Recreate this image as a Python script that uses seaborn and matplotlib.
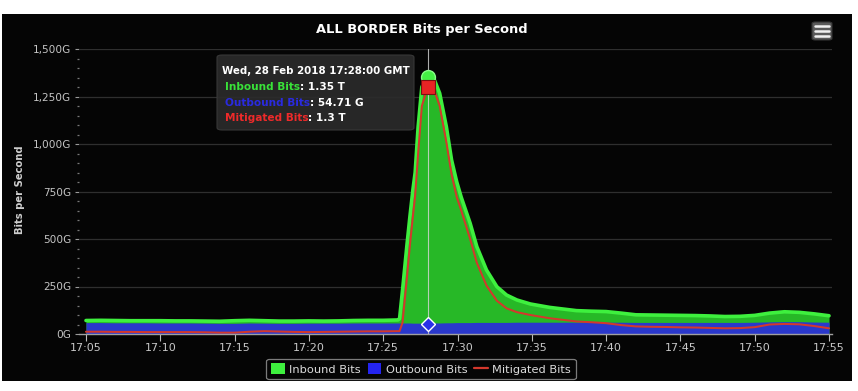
import matplotlib
matplotlib.use("Agg")
import numpy as np
import pandas as pd
import seaborn as sns
import matplotlib.pyplot as plt
from matplotlib.patches import FancyBboxPatch, Rectangle, Patch
from matplotlib.lines import Line2D
from matplotlib.ticker import FixedLocator, MultipleLocator

# ---------------- data (minutes after 17:00, values in G bits/s) ----------------
minutes = [5, 6, 7, 8, 9, 10, 11, 12, 13, 14, 15, 16, 17, 18, 19, 20, 21, 22, 23, 24, 25, 26,
           26.1, 26.3, 26.6, 26.8, 27.0, 27.15, 27.35, 27.6, 28.0, 28.4, 28.8, 29.25, 29.6,
           29.95, 30.25, 30.85, 31.3, 31.95, 32.65, 33.3, 34.0, 34.9, 36.2, 38.0,
           39, 40, 41, 42, 43, 44, 45, 46, 47, 48, 49, 50, 51, 52, 53, 54, 55]
inbound = [71, 72, 71, 70, 70, 70, 69, 69, 68, 67, 70, 72, 70, 68, 68, 69, 68, 69, 71, 72, 72, 74,
           80, 230, 470, 620, 760, 850, 1090, 1300, 1355, 1346, 1267, 1091, 916,
           800, 720, 583, 460, 337, 249, 205, 179, 158, 140, 123,
           120, 118, 110, 101, 100, 99, 98, 97, 95, 92, 93, 98, 110, 117, 114, 106, 96]
outbound = [60, 60, 59, 59, 59, 58, 58, 58, 57, 56, 56, 58, 57, 56, 56, 57, 57, 57, 58, 58, 58, 58,
            58, 58, 58, 58, 57, 57, 57, 57, 55, 58, 58, 59, 59,
            60, 60, 60, 61, 61, 61, 61, 62, 62, 62, 62,
            62, 62, 62, 61, 61, 61, 61, 61, 61, 61, 61, 62, 64, 65, 65, 63, 62]
mitigated = [12, 12, 11, 11, 10, 10, 10, 10, 9, 7, 7, 12, 15, 13, 11, 10, 11, 12, 13, 14, 14, 15,
             15, 60, 300, 470, 620, 730, 950, 1200, 1300, 1290, 1200, 1010, 840,
             720, 650, 500, 375, 255, 175, 135, 115, 100, 83, 66,
             62, 57, 47, 40, 38, 37, 35, 34, 32, 30, 31, 36, 50, 53, 51, 42, 30]

x_ticks = [5, 10, 15, 20, 25, 30, 35, 40, 45, 50, 55]
x_tick_labels = ["17:05", "17:10", "17:15", "17:20", "17:25", "17:30",
                 "17:35", "17:40", "17:45", "17:50", "17:55"]
y_ticks = [0, 250, 500, 750, 1000, 1250, 1500]
y_tick_labels = ["0G", "250G", "500G", "750G", "1,000G", "1,250G", "1,500G"]

series_names = ["Inbound Bits", "Outbound Bits", "Mitigated Bits"]
tooltip_title = "Wed, 28 Feb 2018 17:28:00 GMT"
tooltip_texts = [": 1.35 T", ": 54.71 G", ": 1.3 T"]
hover_minute = 28.0
hover_values = [1355, 55, 1300]
chart_title = "ALL BORDER Bits per Second"
y_title = "Bits per Second"

df = pd.DataFrame({"minute": minutes, "inbound": inbound,
                   "outbound": outbound, "mitigated": mitigated})

# ---------------- styling ----------------
sns.set_theme(style="dark")
plt.rcParams["font.family"] = ["DejaVu Sans"]

W, H = 858, 391
fig = plt.figure(figsize=(W / 100, H / 100), dpi=100)
fig.patch.set_facecolor("white")


def fx(x):
    return x / W


def fy(y):
    return 1 - y / H


# black chart background (white strip at top/bottom)
bg = Rectangle((fx(2), fy(381)), fx(850), (381 - 14) / H,
               transform=fig.transFigure, facecolor="#050505",
               edgecolor="none", zorder=-10)
fig.patches.append(bg)

GREEN_FILL = "#27b827"
GREEN_LINE = "#3ef03e"
BLUE_FILL = "#2a38cc"
RED = "#d4382c"

ax = fig.add_axes([fx(79), fy(334), fx(832) - fx(79), (334 - 49) / H])
ax.set_facecolor("none")
ax.set_zorder(1)

ax.fill_between(df["minute"], 0, df["inbound"], color=GREEN_FILL, lw=0, zorder=2)
sns.lineplot(data=df, x="minute", y="inbound", ax=ax, color=GREEN_LINE, lw=2.6,
             estimator=None, sort=False, zorder=3)
ax.fill_between(df["minute"], 0, df["outbound"], color=BLUE_FILL, lw=0, zorder=4)
sns.lineplot(data=df, x="minute", y="mitigated", ax=ax, color=RED, lw=1.45,
             estimator=None, sort=False, zorder=5)

ax.set_xlim(4.53, 55.2)
ax.set_ylim(0, 1500)
ax.set_xlabel("")
ax.set_ylabel("")

ax.xaxis.set_major_locator(FixedLocator(x_ticks))
ax.set_xticklabels(x_tick_labels)
ax.yaxis.set_major_locator(FixedLocator(y_ticks))
ax.set_yticklabels(y_tick_labels)
ax.yaxis.set_minor_locator(MultipleLocator(50))

ax.grid(False)
for y in y_ticks[1:]:
    ax.axhline(y, color="#2f2f2f", lw=0.9, zorder=1)

for s in ["top", "right", "left"]:
    ax.spines[s].set_visible(False)
ax.spines["bottom"].set_color("#a0a0a0")
ax.spines["bottom"].set_linewidth(1.0)
ax.spines["bottom"].set_zorder(6)

ax.tick_params(axis="x", colors="#bdbdbd", labelsize=8, length=5, width=0.8,
               direction="out", pad=1.5, bottom=True)
ax.tick_params(axis="x", labelcolor="#c8c8c8")
ax.tick_params(axis="y", which="major", colors="#9a9a9a", labelcolor="#c4c4c4",
               labelsize=7.6, length=3, width=0.8, direction="out", pad=2.5, left=True)
ax.tick_params(axis="y", which="minor", colors="#7a7a7a", length=1.5, width=0.9,
               direction="out", left=True)

# crosshair + hover markers
ax.axvline(hover_minute, color="#d8d8d8", lw=0.8, alpha=0.8, zorder=6)
ax.plot([hover_minute], [hover_values[0]], marker="o", ms=10, mfc="#44f044",
        mec="#88ff88", mew=1, zorder=8, ls="none")
ax.plot([hover_minute], [hover_values[2]], marker="s", ms=10, mfc="#e82424",
        mec="#7a1010", mew=0.8, zorder=9, ls="none")
ax.plot([hover_minute], [hover_values[1]], marker="D", ms=7, mfc="#2a30e8",
        mec="white", mew=1.0, zorder=9, ls="none")

# title
fig.text(fx(422), fy(30), chart_title, color="white", fontsize=9.4,
         fontweight="bold", ha="center", va="center")
# y axis title
fig.text(fx(20), fy(190), y_title, color="#cfcfcf", fontsize=7.2,
         fontweight="bold", rotation=90, ha="center", va="center")

# tooltip box
fig.patches.append(FancyBboxPatch((fx(217), fy(130)), fx(414) - fx(217), (130 - 55) / H,
                                  boxstyle="round,pad=0,rounding_size=0.006",
                                  transform=fig.transFigure, facecolor="#2b2b2b",
                                  edgecolor="#3a3a3a", lw=0.8, alpha=0.92, zorder=20))
fig.text(fx(222), fy(71), tooltip_title, color="white", fontsize=7.4,
         fontweight="bold", ha="left", va="center", zorder=21)
label_colors = ["#39e239", "#2a2ae0", "#ee2a2a"]
for i, (name, val, col) in enumerate(zip(series_names, tooltip_texts, label_colors)):
    t = fig.text(fx(225), fy(87 + i * 15.5), name, color=col, fontsize=7.6,
                 fontweight="bold", ha="left", va="center", zorder=21)
    a = plt.Annotation(val, xy=(1, 0.5), xycoords=t, color="white",
                       fontsize=7.6, fontweight="bold", ha="left",
                       va="center", zorder=21)
    a.set_figure(fig)
    fig.texts.append(a)

# menu icon
fig.patches.append(FancyBboxPatch((fx(812), fy(40)), fx(20), 18 / H,
                                  boxstyle="round,pad=0,rounding_size=0.004",
                                  transform=fig.transFigure, facecolor="#5a5a5a",
                                  edgecolor="#333333", lw=0.8, zorder=20))
for yy in [26, 31, 36]:
    fig.lines.append(Line2D([fx(815), fx(829)], [fy(yy), fy(yy)],
                            transform=fig.transFigure, color="#f0f0f0", lw=1.8,
                            zorder=21))

# legend
handles = [Patch(facecolor="#3ef03e", edgecolor="none"),
           Patch(facecolor="#2424f0", edgecolor="none"),
           Line2D([0], [0], color=RED, lw=1.6)]
leg = fig.legend(handles, series_names, loc="center", bbox_to_anchor=(fx(421), fy(369)),
                 ncol=3, frameon=True, fontsize=8.2, handlelength=1.2, handleheight=1.1,
                 handletextpad=0.4, columnspacing=0.6, borderpad=0.4,
                 fancybox=True, labelcolor="#dcdcdc")
leg.get_frame().set_facecolor("#050505")
leg.get_frame().set_edgecolor("#9a9a9a")
leg.get_frame().set_linewidth(0.9)

fig.savefig("out.png", dpi=100, facecolor=fig.get_facecolor())
